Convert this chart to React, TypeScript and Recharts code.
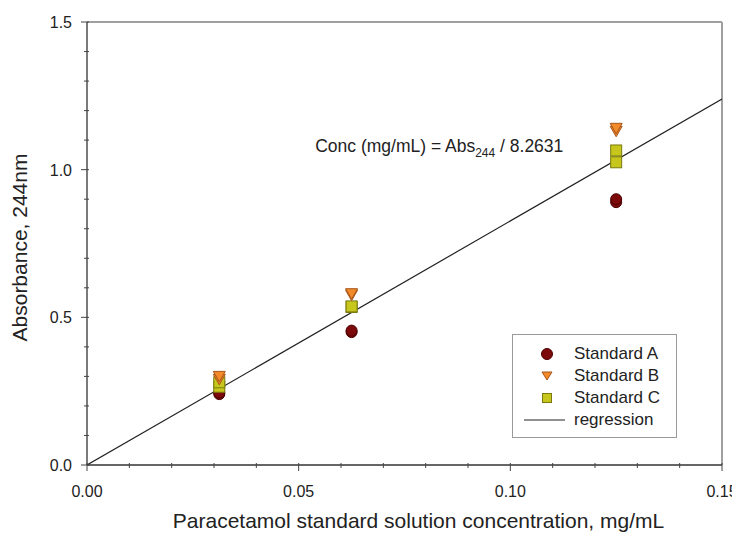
import React from "react";
import {
  ReferenceDot,
  ReferenceLine,
  Scatter,
  ScatterChart,
  XAxis,
  YAxis,
} from "recharts";

const FONT = "'Liberation Sans', Arial, sans-serif";

// concentrations, mg/mL
const CONC = [0.03125, 0.0625, 0.125];

// absorbance readings (two replicates per level)
const STD_A = [0.24, 0.245, 0.45, 0.455, 0.89, 0.9];
const STD_B = [0.29, 0.3, 0.575, 0.58, 1.13, 1.14];
const STD_C = [0.265, 0.28, 0.535, 0.537, 1.025, 1.065];
const REP_CONC = [CONC[0], CONC[0], CONC[1], CONC[1], CONC[2], CONC[2]];

// regression end points (Abs = 8.2631 * conc)
const REG_X = [0, 0.15];
const REG_Y = [0, 1.2395];

const X_MAJOR = [0, 0.05, 0.1, 0.15];
const X_MINOR = [0.01, 0.02, 0.03, 0.04, 0.06, 0.07, 0.08, 0.09, 0.11, 0.12, 0.13, 0.14];
const Y_MAJOR = [0, 0.5, 1.0, 1.5];
const Y_MINOR = [0.1, 0.2, 0.3, 0.4, 0.6, 0.7, 0.8, 0.9, 1.1, 1.2, 1.3, 1.4];

const toPoints = (ys: number[]) => ys.map((y, i) => ({ x: REP_CONC[i], y }));
const dataA = toPoints(STD_A);
const dataB = toPoints(STD_B);
const dataC = toPoints(STD_C);
const regData = REG_X.map((x, i) => ({ x, y: REG_Y[i] }));

const COL_A = "#7d0a0a";
const COL_B = "#f28a2a";
const COL_C = "#c6c61c";

const Circle = (p: any) => (
  <circle cx={p.cx} cy={p.cy} r={5.5} fill={COL_A} stroke="#4a0000" strokeWidth={1} />
);
const Tri = (p: any) => (
  <path
    d={`M${p.cx - 6},${p.cy - 5} L${p.cx + 6},${p.cy - 5} L${p.cx},${p.cy + 5.5} Z`}
    fill={COL_B}
    stroke="#a8551a"
    strokeWidth={1}
  />
);
const Sq = (p: any) => (
  <rect x={p.cx - 5.5} y={p.cy - 5.5} width={11} height={11} fill={COL_C} stroke="#7a7a10" strokeWidth={1} />
);
const NoShape = () => null;

const XTick = (p: any) => {
  const v = p.payload.value;
  const major = X_MAJOR.some((m) => Math.abs(m - v) < 1e-9);
  return (
    <g>
      <line x1={p.x} x2={p.x} y1={p.y - 2} y2={major ? p.y + 6 : p.y + 3} stroke="#444" strokeWidth={1} />
      {major && (
        <text x={p.x} y={p.y + 32} textAnchor="middle" fontSize={16} fill="#222" fontFamily={FONT}>
          {v.toFixed(2)}
        </text>
      )}
    </g>
  );
};

const YTick = (p: any) => {
  const v = p.payload.value;
  const major = Y_MAJOR.some((m) => Math.abs(m - v) < 1e-9);
  return (
    <g>
      <line x1={major ? p.x - 6 : p.x - 3} x2={p.x + 2} y1={p.y} y2={p.y} stroke="#444" strokeWidth={1} />
      {major && (
        <text x={p.x - 15} y={p.y + 6} textAnchor="end" fontSize={16} fill="#222" fontFamily={FONT}>
          {v.toFixed(1)}
        </text>
      )}
    </g>
  );
};

const XTitle = (p: any) => {
  const vb = p.viewBox;
  return (
    <text x={vb.x + vb.width / 2 + 14} y={vb.y + 63} textAnchor="middle" fontSize={21} fill="#222" fontFamily={FONT}>
      Paracetamol standard solution concentration, mg/mL
    </text>
  );
};

const YTitle = (p: any) => {
  const vb = p.viewBox;
  const cy = vb.y + vb.height / 2 + 4;
  return (
    <text
      x={19}
      y={cy}
      transform={`rotate(-90 19 ${cy})`}
      textAnchor="middle"
      fontSize={21}
      fill="#222"
      fontFamily={FONT}
    >
      Absorbance, 244nm
    </text>
  );
};

const legendItems = [
  { name: "Standard A", kind: "a" },
  { name: "Standard B", kind: "b" },
  { name: "Standard C", kind: "c" },
  { name: "regression", kind: "line" },
];

const LegendBox = () => (
  <div
    style={{
      position: "absolute",
      left: 504,
      top: 326,
      width: 165,
      height: 104,
      border: "1px solid #9a9a9a",
      background: "#fff",
      fontFamily: FONT,
      fontSize: 17,
      color: "#222",
      boxSizing: "border-box",
      paddingTop: 8,
    }}
  >
    {legendItems.map((it) => (
      <div key={it.name} style={{ display: "flex", alignItems: "center", height: 22 }}>
        <svg width={61} height={14} style={{ flex: "none" }}>
          {it.kind === "a" && <circle cx={34} cy={7} r={5.5} fill={COL_A} stroke="#4a0000" />}
          {it.kind === "b" && <path d="M29,3 L39,3 L34,11 Z" fill={COL_B} stroke="#a8551a" />}
          {it.kind === "c" && <rect x={29.5} y={2.5} width={9} height={9} fill={COL_C} stroke="#7a7a10" />}
          {it.kind === "line" && <line x1={11} x2={52} y1={7} y2={7} stroke="#222" strokeWidth={1.2} />}
        </svg>
        <span>{it.name}</span>
      </div>
    ))}
  </div>
);

const Annotation = (p: any) => (
  <text x={p.cx} y={p.cy} fontSize={17.5} fill="#222" fontFamily={FONT}>
    Conc (mg/mL) = Abs
    <tspan fontSize={12} dy={5}>244</tspan>
    <tspan dy={-5}> / 8.2631</tspan>
  </text>
);

export default function App() {
  return (
    <div style={{ position: "relative", width: 732, height: 532 }}>
      <ScatterChart width={732} height={532} margin={{ top: 14, right: 18, left: 0, bottom: 0 }}>
        <XAxis
          type="number"
          dataKey="x"
          domain={[0, 0.15]}
          ticks={[...X_MAJOR, ...X_MINOR].sort((a, b) => a - b)}
          interval={0}
          tickSize={0}
          tickMargin={0}
          tickLine={false}
          tick={<XTick />}
          axisLine={{ stroke: "#333", strokeWidth: 1.3 }}
          height={75}
          allowDataOverflow
          label={<XTitle />}
        />
        <YAxis
          type="number"
          dataKey="y"
          domain={[0, 1.5]}
          ticks={[...Y_MAJOR, ...Y_MINOR].sort((a, b) => a - b)}
          interval={0}
          tickSize={0}
          tickMargin={0}
          tickLine={false}
          tick={<YTick />}
          axisLine={{ stroke: "#333", strokeWidth: 1.3 }}
          width={79}
          allowDataOverflow
          label={<YTitle />}
        />
        <ReferenceLine y={1.5} stroke="#a0a0a0" strokeWidth={2} />
        <ReferenceLine x={0.15} stroke="#a0a0a0" strokeWidth={2} />
        <Scatter
          name="regression"
          data={regData}
          line={{ stroke: "#222", strokeWidth: 1.2 }}
          shape={<NoShape />}
          legendType="none"
          isAnimationActive={false}
        />
        <Scatter name="Standard A" data={dataA} shape={<Circle />} isAnimationActive={false} />
        <Scatter name="Standard C" data={dataC} shape={<Sq />} isAnimationActive={false} />
        <Scatter name="Standard B" data={dataB} shape={<Tri />} isAnimationActive={false} />
        <ReferenceDot x={0.0539} y={1.061} r={0} shape={<Annotation />} />
      </ScatterChart>
      <LegendBox />
    </div>
  );
}
